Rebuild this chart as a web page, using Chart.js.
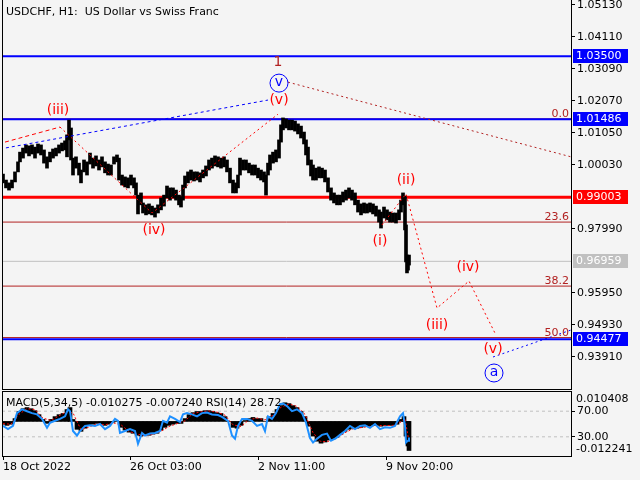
<!DOCTYPE html>
<html>
<head>
<meta charset="utf-8">
<title>USDCHF H1</title>
<script src="https://cdn.jsdelivr.net/npm/chart.js@4.4.1/dist/chart.umd.min.js"></script>
<style>
  html, body { margin: 0; padding: 0; background: #f4f4f4; }
  #wrap { position: relative; width: 640px; height: 480px; background: #f4f4f4; overflow: hidden; }
  canvas { position: absolute; left: 0; }
  #main { top: 0; }
  #ind { top: 391px; }
</style>
</head>
<body>
<div id="wrap">
  <canvas id="main" width="640" height="390"></canvas>
  <canvas id="ind" width="640" height="89"></canvas>
</div>
<script>
// values; x is hours counted from the first bar
const chartTitle = 'USDCHF, H1:  US Dollar vs Swiss Franc';
const indicatorCaption = 'MACD(5,34,5) -0.010275 -0.007240 RSI(14) 28.72';

const timeTickHours = [0, 127, 255, 383];
const timeTickLabels = ['18 Oct 2022', '26 Oct 03:00', '2 Nov 11:00', '9 Nov 20:00'];
const priceTicks = [1.05130, 1.04110, 1.03090, 1.02070, 1.01050, 1.00030, 0.97990, 0.95950, 0.94930, 0.93910];

const barHours = [
  0, 3, 6, 9, 12, 15, 17, 20, 23, 26,
  29, 32, 35, 38, 41, 44, 47, 50, 53, 56,
  59, 62, 64, 66, 68, 70, 73, 76, 78, 81,
  84, 87, 90, 93, 96, 99, 102, 105, 108, 111,
  114, 116, 119, 122, 125, 128, 131, 133, 135, 138,
  140, 143, 146, 149, 152, 155, 158, 161, 164, 167,
  170, 173, 176, 178, 180, 182, 185, 188, 191, 194,
  197, 200, 203, 206, 209, 212, 215, 218, 221, 224,
  227, 230, 233, 235, 237, 240, 243, 246, 249, 252,
  255, 258, 261, 263, 265, 267, 270, 273, 276, 278,
  280, 283, 286, 289, 292, 295, 298, 301, 303, 305,
  308, 310, 313, 316, 319, 322, 325, 328, 331, 334,
  337, 340, 343, 346, 349, 352, 355, 358, 361, 364,
  367, 370, 373, 376, 378, 381, 384, 387, 390, 393,
  396, 398, 400, 402, 403, 404, 405, 406
];
const barHighs = [
  0.9974, 0.9955, 0.9946, 0.9955, 0.9981, 1.0013, 1.0044, 1.0057, 1.0067, 1.0064,
  1.0067, 1.0060, 1.0070, 1.0067, 1.0051, 1.0029, 1.0044, 1.0054, 1.0057, 1.0067,
  1.0073, 1.0080, 1.0099, 1.0146, 1.0121, 1.0025, 1.0029, 1.0009, 0.9987, 1.0019,
  1.0013, 1.0041, 1.0025, 1.0032, 1.0019, 1.0029, 1.0013, 1.0006, 1.0003, 1.0029,
  1.0035, 1.0025, 0.9971, 0.9965, 0.9962, 0.9971, 0.9962, 0.9946, 0.9907, 0.9914,
  0.9882, 0.9876, 0.9879, 0.9872, 0.9866, 0.9876, 0.9898, 0.9907, 0.9936, 0.9930,
  0.9930, 0.9923, 0.9907, 0.9901, 0.9939, 0.9968, 0.9981, 0.9987, 0.9981, 0.9981,
  0.9978, 0.9987, 1.0000, 1.0019, 1.0025, 1.0032, 1.0029, 1.0025, 1.0029, 1.0019,
  0.9993, 0.9955, 0.9946, 0.9971, 1.0025, 1.0019, 1.0019, 1.0009, 1.0003, 1.0003,
  0.9993, 0.9987, 0.9981, 0.9971, 1.0009, 1.0035, 1.0044, 1.0051, 1.0083, 1.0131,
  1.0153, 1.0150, 1.0146, 1.0146, 1.0143, 1.0134, 1.0127, 1.0108, 1.0083, 1.0060,
  1.0019, 1.0003, 0.9993, 0.9997, 0.9993, 0.9987, 0.9962, 0.9930, 0.9914, 0.9907,
  0.9907, 0.9917, 0.9923, 0.9930, 0.9923, 0.9914, 0.9891, 0.9879, 0.9882, 0.9879,
  0.9882, 0.9879, 0.9872, 0.9860, 0.9853, 0.9869, 0.9860, 0.9853, 0.9850, 0.9850,
  0.9860, 0.9891, 0.9914, 0.9904, 0.9812, 0.9716, 0.9707, 0.9716
];
const barLows = [
  0.9946, 0.9930, 0.9923, 0.9930, 0.9949, 0.9981, 1.0013, 1.0025, 1.0041, 1.0032,
  1.0038, 1.0025, 1.0041, 1.0035, 1.0009, 0.9993, 1.0013, 1.0025, 1.0032, 1.0041,
  1.0048, 1.0051, 1.0029, 1.0083, 1.0019, 0.9971, 0.9993, 0.9971, 0.9946, 0.9981,
  0.9971, 1.0006, 0.9993, 1.0000, 0.9987, 0.9997, 0.9978, 0.9971, 0.9971, 1.0006,
  1.0013, 0.9955, 0.9939, 0.9933, 0.9930, 0.9939, 0.9930, 0.9907, 0.9847, 0.9876,
  0.9850, 0.9844, 0.9847, 0.9844, 0.9837, 0.9850, 0.9860, 0.9872, 0.9898, 0.9891,
  0.9898, 0.9891, 0.9876, 0.9869, 0.9891, 0.9930, 0.9946, 0.9955, 0.9952, 0.9955,
  0.9949, 0.9962, 0.9968, 0.9987, 0.9993, 1.0000, 0.9997, 0.9993, 0.9997, 0.9981,
  0.9946, 0.9914, 0.9914, 0.9930, 0.9971, 0.9987, 0.9987, 0.9978, 0.9971, 0.9971,
  0.9962, 0.9955, 0.9949, 0.9907, 0.9971, 0.9987, 1.0009, 1.0013, 1.0025, 1.0076,
  1.0115, 1.0121, 1.0115, 1.0115, 1.0111, 1.0102, 1.0089, 1.0070, 1.0035, 1.0003,
  0.9968, 0.9955, 0.9955, 0.9962, 0.9962, 0.9949, 0.9917, 0.9891, 0.9882, 0.9876,
  0.9876, 0.9885, 0.9891, 0.9898, 0.9891, 0.9876, 0.9853, 0.9844, 0.9850, 0.9850,
  0.9853, 0.9847, 0.9840, 0.9821, 0.9802, 0.9834, 0.9828, 0.9821, 0.9821, 0.9818,
  0.9828, 0.9853, 0.9876, 0.9796, 0.9694, 0.9659, 0.9668, 0.9684
];

// horizontal levels (also shown as price tags on the axis)
const levelPrices = [1.03500, 1.01486, 0.99003, 0.96959, 0.94477];
const fibLabels = ['0.0', '23.6', '38.2', '50.0'];
const fibPrices = [1.0150, 0.9821, 0.9617, 0.9453];

// wave count lines
const prevLegHours = [2, 57];
const prevLegPrices = [1.0076, 1.0124];
const minorWaveHours = [57, 149, 275];
const minorWavePrices = [1.0124, 0.9850, 1.0165];
const majorWaveHours = [-3, 265];
const majorWavePrices = [1.0054, 1.0210];
const afterTopHours = [285, 568];
const afterTopPrices = [1.0267, 1.0029];
const impulseHours = [379, 403, 434, 466, 492];
const impulsePrices = [0.9812, 0.9911, 0.9547, 0.9633, 0.9467];
const nextLegHours = [490, 568];
const nextLegPrices = [0.9391, 0.9477];

const waveTexts = ['1', 'v', '(v)', '(iii)', '(iv)', '(i)', '(ii)', '(iii)', '(iv)', '(v)', 'a'];
const waveTextHours = [275, 276, 276, 55, 151, 377, 403, 434, 465, 490, 491];
const waveTextPrices = [1.0331, 1.0264, 1.0210, 1.0178, 0.9796, 0.9758, 0.9955, 0.9493, 0.9678, 0.9416, 0.9340];

// MACD(5,34,5) histogram + signal, RSI(14)
const macdHours = [
  0, 4, 8, 12, 16, 20, 24, 28, 32, 36,
  40, 44, 48, 52, 56, 60, 64, 67, 70, 74,
  78, 82, 86, 90, 94, 98, 102, 106, 110, 114,
  118, 122, 126, 130, 134, 138, 142, 146, 150, 154,
  158, 162, 166, 170, 174, 178, 182, 186, 190, 194,
  198, 202, 206, 210, 214, 218, 222, 226, 230, 234,
  238, 242, 246, 250, 254, 258, 262, 266, 270, 274,
  278, 282, 286, 290, 294, 298, 302, 306, 310, 314,
  318, 322, 326, 330, 334, 338, 342, 346, 350, 354,
  358, 362, 366, 370, 374, 378, 382, 386, 390, 394,
  398, 401, 403, 405, 406
];
const macdValues = [
  -0.0010, -0.0014, -0.0010, 0.0010, 0.0035, 0.0045, 0.0049, 0.0045, 0.0038, 0.0024,
  0.0007, -0.0007, 0.0007, 0.0017, 0.0024, 0.0028, 0.0042, 0.0049, 0.0007, -0.0028,
  -0.0035, -0.0024, -0.0014, -0.0010, -0.0007, -0.0010, -0.0014, -0.0010, -0.0003, 0.0000,
  -0.0021, -0.0031, -0.0038, -0.0042, -0.0049, -0.0052, -0.0049, -0.0049, -0.0045, -0.0042,
  -0.0031, -0.0021, -0.0014, -0.0010, -0.0007, -0.0007, 0.0010, 0.0024, 0.0031, 0.0035,
  0.0035, 0.0038, 0.0038, 0.0035, 0.0031, 0.0028, 0.0017, 0.0000, -0.0021, -0.0024,
  -0.0014, 0.0003, 0.0010, 0.0014, 0.0010, 0.0010, 0.0000, 0.0017, 0.0028, 0.0042,
  0.0056, 0.0066, 0.0063, 0.0056, 0.0049, 0.0035, 0.0017, -0.0017, -0.0052, -0.0070,
  -0.0077, -0.0073, -0.0066, -0.0063, -0.0056, -0.0045, -0.0035, -0.0028, -0.0024, -0.0024,
  -0.0021, -0.0017, -0.0017, -0.0014, -0.0014, -0.0017, -0.0014, -0.0014, -0.0014, -0.0010,
  0.0007, 0.0017, -0.0052, -0.0087, -0.0103
];
const signalHours = [
  0, 8, 16, 24, 32, 40, 48, 56, 64, 70,
  78, 86, 94, 102, 110, 118, 126, 134, 142, 150,
  158, 166, 174, 182, 190, 198, 206, 214, 222, 230,
  238, 246, 254, 262, 270, 278, 286, 294, 302, 310,
  318, 326, 334, 342, 350, 358, 366, 374, 382, 390,
  398, 402, 406
];
const signalValues = [
  -0.0008, -0.0010, 0.0025, 0.0045, 0.0042, 0.0012, 0.0003, 0.0020, 0.0035, 0.0030,
  -0.0030, -0.0020, -0.0008, -0.0012, -0.0005, -0.0012, -0.0035, -0.0045, -0.0050, -0.0046,
  -0.0035, -0.0018, -0.0008, 0.0002, 0.0028, 0.0034, 0.0037, 0.0033, 0.0022, -0.0012,
  -0.0018, 0.0006, 0.0012, 0.0005, 0.0022, 0.0050, 0.0062, 0.0053, 0.0025, -0.0040,
  -0.0072, -0.0070, -0.0058, -0.0040, -0.0026, -0.0022, -0.0018, -0.0014, -0.0015, -0.0014,
  -0.0002, 0.0010, -0.0072
];
const rsiHours = [
  0, 5, 10, 14, 19, 24, 29, 34, 39, 44,
  47, 52, 57, 62, 65, 67, 70, 74, 77, 82,
  87, 92, 97, 102, 107, 112, 115, 117, 122, 127,
  132, 135, 139, 142, 147, 152, 157, 160, 164, 167,
  172, 177, 180, 184, 189, 194, 199, 204, 209, 215,
  219, 225, 229, 232, 235, 239, 244, 249, 254, 259,
  262, 265, 269, 273, 277, 280, 284, 289, 294, 299,
  303, 307, 310, 314, 319, 324, 328, 333, 337, 342,
  347, 352, 357, 362, 367, 372, 377, 382, 387, 392,
  397, 400, 402, 403, 405, 406
];
const rsiValues = [
  47, 42, 47, 67, 73, 70, 67, 65, 58, 44,
  52, 55, 58, 62, 73, 70, 39, 32, 39, 47,
  48, 47, 50, 42, 47, 58, 55, 36, 39, 42,
  39, 19, 36, 32, 35, 36, 39, 55, 52, 62,
  58, 53, 65, 67, 65, 62, 67, 68, 65, 64,
  61, 55, 32, 27, 47, 58, 58, 55, 47, 50,
  39, 62, 58, 67, 81, 82, 78, 70, 73, 67,
  52, 28, 21, 27, 33, 35, 24, 28, 33, 39,
  47, 42, 47, 48, 44, 50, 42, 45, 44, 47,
  62, 67, 47, 21, 24, 28.72
];
const rsiLevels = [70, 30];
const macdRange = [-0.012241, 0.010408];

// ---------------------------------------------------------------------------
const FONT = '"DejaVu Sans", sans-serif';
Chart.defaults.font.family = FONT;
Chart.defaults.font.size = 11;
Chart.defaults.color = '#000';

const HOUR_MIN = -1, HOUR_MAX = 568;
const DARK_RED = '#b22222';
const levelStyles = [
  { color: '#0000ff', width: 2 },
  { color: '#0000ff', width: 2 },
  { color: '#ff0000', width: 3 },
  { color: '#c0c0c0', width: 1 },
  { color: '#0000ff', width: 2 },
];

const pts = (xs, ys) => xs.map((x, i) => ({ x: x, y: ys[i] }));
const flat = v => [{ x: HOUR_MIN, y: v }, { x: HOUR_MAX, y: v }];

function lineSet(data, color, width, dash, order, axis) {
  return {
    type: 'line', data: data, borderColor: color, borderWidth: width,
    borderDash: dash || [], pointRadius: 0, tension: 0, order: order,
    yAxisID: axis || 'y',
  };
}

const frame = {
  id: 'frame',
  afterDraw(chart) {
    const a = chart.chartArea, ctx = chart.ctx;
    ctx.save();
    ctx.strokeStyle = '#000';
    ctx.lineWidth = 1;
    ctx.strokeRect(a.left + 0.5, a.top - 0.5, a.right - a.left, a.bottom - a.top + 1);
    ctx.restore();
  }
};

const mainText = {
  id: 'mainText',
  afterDatasetsDraw(chart) {
    const ctx = chart.ctx, xs = chart.scales.x, ys = chart.scales.y, a = chart.chartArea;
    ctx.save();
    ctx.font = '11px ' + FONT;
    ctx.fillStyle = '#000';
    ctx.textAlign = 'left';
    ctx.textBaseline = 'middle';
    ctx.fillText(chartTitle, 6, 12);

    ctx.fillStyle = DARK_RED;
    ctx.textAlign = 'right';
    ctx.textBaseline = 'bottom';
    fibLabels.forEach((t, i) => ctx.fillText(t, a.right - 2, ys.getPixelForValue(fibPrices[i]) + 1));

    ctx.textAlign = 'center';
    ctx.textBaseline = 'middle';
    waveTexts.forEach((t, i) => {
      const x = xs.getPixelForValue(waveTextHours[i]);
      const y = ys.getPixelForValue(waveTextPrices[i]);
      ctx.font = '14px ' + FONT;
      if (/^[a-z]$/.test(t)) {
        ctx.strokeStyle = '#0000ff';
        ctx.lineWidth = 1;
        ctx.beginPath();
        ctx.arc(x, y, 9, 0, Math.PI * 2);
        ctx.stroke();
        ctx.fillStyle = '#0000ff';
        ctx.fillText(t, x, y - 1);
      } else {
        ctx.fillStyle = t === '1' ? DARK_RED : '#ff0000';
        ctx.fillText(t, x, y);
      }
    });
    ctx.restore();
  }
};

const priceTags = {
  id: 'priceTags',
  afterDraw(chart) {
    const ys = chart.scales.y, ctx = chart.ctx, x0 = chart.chartArea.right + 2;
    ctx.save();
    ctx.font = '11px ' + FONT;
    ctx.textAlign = 'left';
    ctx.textBaseline = 'middle';
    levelPrices.forEach((p, i) => {
      const y = Math.round(ys.getPixelForValue(p));
      ctx.fillStyle = levelStyles[i].color;
      ctx.fillRect(x0, y - 7, 55, 14);
      ctx.fillStyle = '#fff';
      ctx.fillText(p.toFixed(5), x0 + 3, y);
    });
    ctx.restore();
  }
};

const indicatorText = {
  id: 'indicatorText',
  afterDraw(chart) {
    const ctx = chart.ctx, a = chart.chartArea, m = chart.scales.macd;
    ctx.save();
    ctx.font = '11px ' + FONT;
    ctx.fillStyle = '#000';
    ctx.textAlign = 'left';
    ctx.textBaseline = 'middle';
    ctx.fillText(indicatorCaption, 6, a.top + 11);
    ctx.fillText(macdRange[1].toFixed(6), a.right + 5, m.getPixelForValue(macdRange[1]) + 7);
    ctx.fillText(macdRange[0].toFixed(6), a.right + 5, m.getPixelForValue(macdRange[0]) - 7);
    ctx.restore();
  }
};

// ---------------- main price pane ----------------
const mainSets = [
  lineSet(pts(prevLegHours, prevLegPrices), '#ff0000', 1, [4, 3], 1),
  lineSet(pts(minorWaveHours, minorWavePrices), '#ff0000', 1, [2, 3], 1),
  lineSet(pts(majorWaveHours, majorWavePrices), '#0000ff', 1, [3, 3], 1),
  lineSet(pts(afterTopHours, afterTopPrices), DARK_RED, 1, [2, 3], 1),
  lineSet(pts(impulseHours, impulsePrices), '#ff0000', 1, [2, 3], 1),
  lineSet(pts(nextLegHours, nextLegPrices), '#0000ff', 1, [2, 3], 1),
  {
    type: 'bar',
    data: barHours.map((h, i) => ({ x: h, y: [barLows[i], barHighs[i]] })),
    backgroundColor: '#000', barThickness: 3, order: 3, yAxisID: 'y',
  },
];
levelPrices.forEach((p, i) => mainSets.push(lineSet(flat(p), levelStyles[i].color, levelStyles[i].width, [], i === 3 ? 6 : 4)));
fibPrices.forEach(p => mainSets.push(lineSet(flat(p), DARK_RED, 1, [], 5)));

new Chart(document.getElementById('main'), {
  type: 'bar',
  data: { datasets: mainSets },
  options: {
    responsive: false, animation: false, devicePixelRatio: 1, events: [],
    layout: { padding: { left: 2, right: 0, top: 0, bottom: 1 } },
    plugins: { legend: { display: false }, tooltip: { enabled: false } },
    scales: {
      x: { type: 'linear', min: HOUR_MIN, max: HOUR_MAX, display: false, offset: false },
      y: {
        position: 'right', min: 0.92890, max: 1.05289,
        afterBuildTicks: s => { s.ticks = priceTicks.map(v => ({ value: v })); },
        ticks: { autoSkip: false, padding: 2, callback: v => Number(v).toFixed(5) },
        grid: { drawOnChartArea: false, color: '#000', tickLength: 4, offset: false },
        border: { color: '#000' },
        afterFit: s => { s.width = 69; s.paddingTop = 0; s.paddingBottom = 0; },
      },
    },
  },
  plugins: [frame, mainText, priceTags],
});

// ---------------- MACD / RSI pane ----------------
const indSets = [
  lineSet(pts(rsiHours, rsiValues), '#1e90ff', 2, [], 1, 'rsi'),
  lineSet(pts(signalHours, signalValues), '#ff0000', 1, [2, 2], 2, 'macd'),
  {
    type: 'bar',
    data: macdHours.map((h, i) => ({ x: h, y: macdValues[i] })),
    backgroundColor: '#000', barThickness: 4, order: 3, yAxisID: 'macd',
  },
];
rsiLevels.forEach(v => indSets.push(lineSet(flat(v), '#c0c0c0', 1, [3, 3], 6, 'rsi')));

new Chart(document.getElementById('ind'), {
  type: 'bar',
  data: { datasets: indSets },
  options: {
    responsive: false, animation: false, devicePixelRatio: 1, events: [],
    layout: { padding: { left: 2, right: 0, top: 1, bottom: 0 } },
    plugins: { legend: { display: false }, tooltip: { enabled: false } },
    scales: {
      x: {
        type: 'linear', position: 'bottom', min: HOUR_MIN, max: HOUR_MAX, offset: false,
        afterBuildTicks: s => { s.ticks = timeTickHours.map(v => ({ value: v })); },
        ticks: { autoSkip: false, maxRotation: 0, align: 'start', padding: 1,
                 callback: (v, i) => timeTickLabels[i] },
        grid: { drawOnChartArea: false, color: '#000', tickLength: 4, offset: false },
        border: { color: '#000' },
        afterFit: s => { s.height = 24; s.paddingLeft = 0; s.paddingRight = 0; },
      },
      macd: { axis: 'y', position: 'right', min: macdRange[0], max: macdRange[1], display: false },
      rsi: {
        axis: 'y', position: 'right', min: 0, max: 100,
        afterBuildTicks: s => { s.ticks = rsiLevels.map(v => ({ value: v })); },
        ticks: { autoSkip: false, padding: 2, callback: v => Number(v).toFixed(2) },
        grid: { drawOnChartArea: false, color: '#000', tickLength: 4, offset: false },
        border: { color: '#000' },
        afterFit: s => { s.width = 69; s.paddingTop = 0; s.paddingBottom = 0; },
      },
    },
  },
  plugins: [frame, indicatorText],
});
</script>
</body>
</html>
